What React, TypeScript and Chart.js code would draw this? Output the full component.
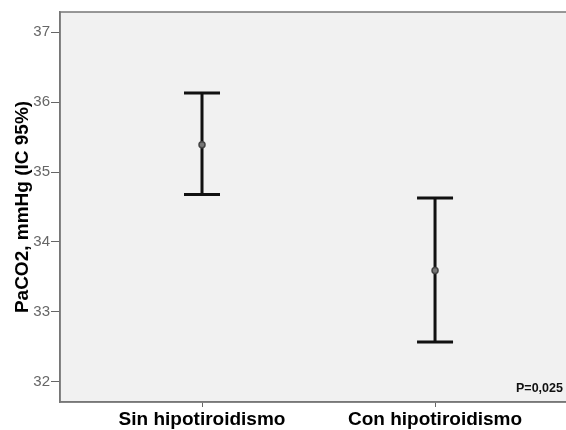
import React, { useEffect, useRef } from "react";
import { Chart, registerables } from "chart.js";

Chart.register(...registerables);

const categories = ["Sin hipotiroidismo", "Con hipotiroidismo"];
const means = [35.39, 33.59];
const lowerCI = [34.68, 32.57];
const upperCI = [36.13, 34.63];
const yTicks = [32, 33, 34, 35, 36, 37];
const yTitle = "PaCO2, mmHg (IC 95%)";
const pText = "P=0,025";

const FONT = "Arial, 'Liberation Sans', sans-serif";

const errorBarPlugin = {
  id: "errorBars",
  beforeDraw(chart: any) {
    const { ctx, chartArea } = chart;
    ctx.save();
    ctx.fillStyle = "#f1f1f1";
    ctx.fillRect(chartArea.left, chartArea.top, chartArea.right - chartArea.left, chartArea.bottom - chartArea.top);
    ctx.restore();
  },
  afterDatasetsDraw(chart: any) {
    const { ctx, chartArea, scales } = chart;
    const xs = scales.x;
    const ys = scales.y;
    ctx.save();
    categories.forEach((_, i) => {
      const x = xs.getPixelForValue(i + 1);
      const yl = ys.getPixelForValue(lowerCI[i]);
      const yu = ys.getPixelForValue(upperCI[i]);
      const half = 18;
      ctx.strokeStyle = "#111";
      ctx.lineWidth = 3;
      ctx.lineCap = "butt";
      ctx.beginPath();
      ctx.moveTo(x, yl);
      ctx.lineTo(x, yu);
      ctx.moveTo(x - half, yl);
      ctx.lineTo(x + half, yl);
      ctx.moveTo(x - half, yu);
      ctx.lineTo(x + half, yu);
      ctx.stroke();
      const ym = ys.getPixelForValue(means[i]);
      ctx.beginPath();
      ctx.lineWidth = 1.5;
      ctx.strokeStyle = "#444";
      ctx.fillStyle = "#777";
      ctx.arc(x, ym, 3, 0, Math.PI * 2);
      ctx.fill();
      ctx.stroke();
    });
    // frame
    ctx.strokeStyle = "#777";
    ctx.lineWidth = 1.5;
    ctx.strokeRect(chartArea.left, chartArea.top, chartArea.right - chartArea.left, chartArea.bottom - chartArea.top);
    // p text
    ctx.fillStyle = "#111";
    ctx.font = "bold 12.5px " + FONT;
    ctx.textAlign = "left";
    ctx.textBaseline = "middle";
    ctx.fillText(pText, 516, chartArea.bottom - 13);
    ctx.restore();
  },
};

export default function App() {
  const ref = useRef<HTMLCanvasElement | null>(null);
  useEffect(() => {
    if (!ref.current) return;
    const chart = new Chart(ref.current, {
      type: "scatter",
      data: {
        datasets: [
          {
            data: means.map((m, i) => ({ x: i + 1, y: m })),
            pointRadius: 0,
            showLine: false,
          },
        ],
      },
      plugins: [errorBarPlugin],
      options: {
        responsive: false,
        animation: false,
        layout: { padding: { top: 12, right: 10, left: 0, bottom: 0 } },
        plugins: { legend: { display: false }, tooltip: { enabled: false } },
        scales: {
          x: {
            type: "linear",
            min: 0.3906,
            max: 2.665,
            afterFit: (s: any) => {
              s.height = 28;
            },
            afterBuildTicks: (s: any) => {
              s.ticks = [{ value: 1 }, { value: 2 }];
            },
            ticks: {
              autoSkip: false,
              maxRotation: 0,
              color: "#000",
              padding: 1,
              font: { family: FONT, size: 19, weight: "bold" },
              callback: (v: any) => categories[Math.round(v) - 1] ?? "",
            },
            grid: { drawOnChartArea: false, drawTicks: true, tickLength: 5, color: "#666" },
            border: { display: true, color: "#777", width: 1.5 },
          },
          y: {
            type: "linear",
            min: 31.71,
            max: 37.29,
            afterFit: (s: any) => {
              s.width = 60;
            },
            afterBuildTicks: (s: any) => {
              s.ticks = yTicks.map((v) => ({ value: v }));
            },
            ticks: {
              color: "#666",
              padding: 1,
              font: { family: FONT, size: 15 },
            },
            grid: { drawOnChartArea: false, drawTicks: true, tickLength: 9, color: "#666" },
            border: { display: true, color: "#777", width: 1.5 },
            title: {
              display: true,
              text: yTitle,
              color: "#000",
              padding: { top: 11, bottom: 0 },
              font: { family: FONT, size: 19, weight: "bold" },
            },
          },
        },
      },
    } as any);
    return () => chart.destroy();
  }, []);
  return (
    <div style={{ position: "fixed", left: 0, top: 0, width: 566, height: 430, overflow: "hidden", background: "#fff" }}>
      <canvas ref={ref} width={600} height={430} style={{ display: "block" }} />
    </div>
  );
}
